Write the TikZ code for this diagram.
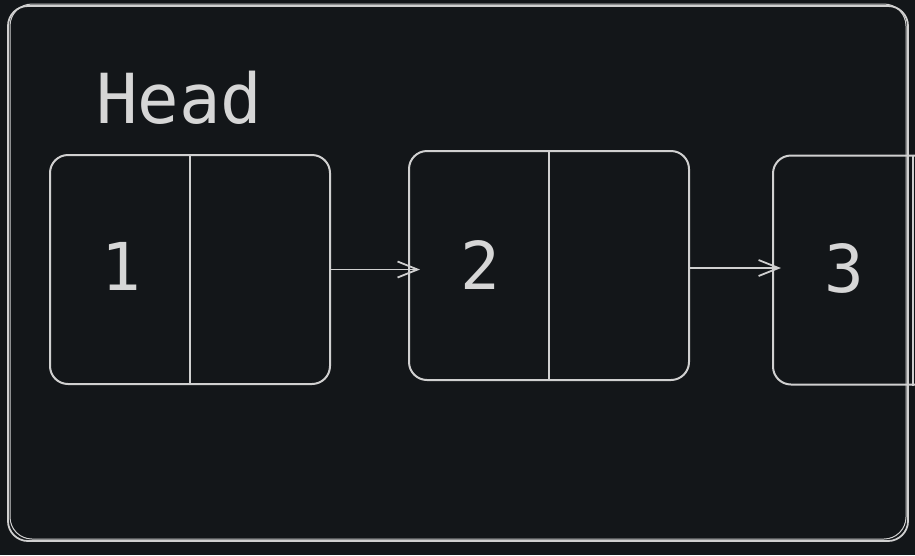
\documentclass[tikz,border=0pt]{standalone}
\usepackage{fontspec}
\setmonofont{DejaVu Sans Mono}
\usetikzlibrary{arrows.meta,calc}
\definecolor{bgc}{HTML}{131619}
\definecolor{linec}{HTML}{D0D0D0}
\definecolor{textc}{HTML}{D6D6D6}
\tikzset{
  cell/.style={draw=linec, line width=2pt, rounded corners=18pt,
    minimum width=280pt, minimum height=229pt, inner sep=0pt},
  digit/.style={text=textc, font=\ttfamily\fontsize{66}{66}\selectfont, inner sep=0pt},
  link/.style={draw=linec, line width=1.8pt, -{Straight Barb[length=20pt,width=16pt,line width=1.8pt]}}
}
\begin{document}
\begin{tikzpicture}[x=1pt,y=-1pt]
  \useasboundingbox (0,0) rectangle (915,555);
  \clip (0,0) rectangle (915,555);
  \fill[bgc] (0,0) rectangle (915,555);
  % outer frame
  \draw[linec, line width=1.8pt, rounded corners=20pt] (8,6) rectangle (908,541);
  \draw[linec, line width=1pt, rounded corners=22pt] (10,4) rectangle (906,539);
  \node[text=textc, font=\ttfamily\fontsize{69}{69}\selectfont, anchor=base west, inner sep=0pt] (head) at (96,123) {Head};
  % list nodes
  \node[cell] (n1) at (190,269.5) {};
  \node[cell] (n2) at (549,265.5) {};
  \node[cell] (n3) at (913,270) {};
  \foreach \i in {1,2,3} \draw[linec, line width=2pt] (n\i.north) -- (n\i.south);
  \node[digit] (v1) at ($(n1.west)!0.5!(n1.center)+(2,-3)$) {1};
  \node[digit] (v2) at ($(n2.west)!0.5!(n2.center)+(2,0)$) {2};
  \node[digit] (v3) at ($(n3.west)!0.5!(n3.center)+(2,-2)$) {3};
  % pointers
  \draw[link] (n1.east) -- ([xshift=12pt]n1.east -| n2.west);
  \draw[link] ([yshift=-2.5pt]n2.east) -- ([xshift=9pt,yshift=-2.5pt]n2.east -| n3.west);
\end{tikzpicture}
\end{document}
